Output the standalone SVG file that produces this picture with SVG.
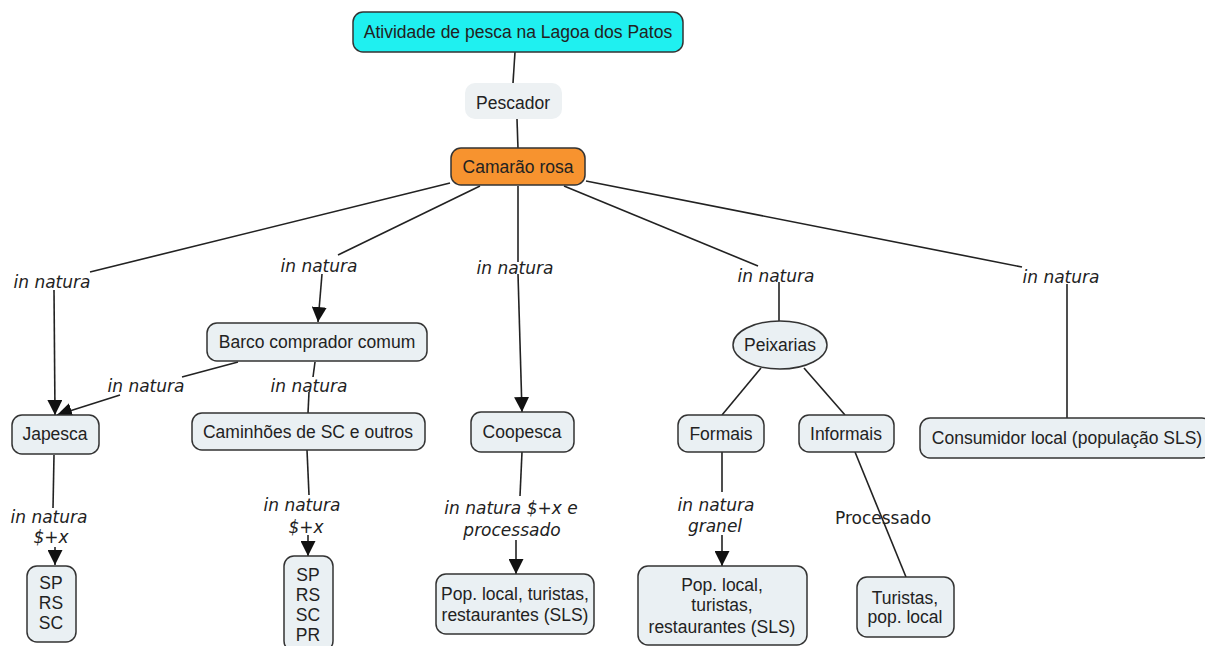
<svg xmlns="http://www.w3.org/2000/svg" width="1205" height="646" viewBox="0 0 1205 646">
  <defs>
    <marker id="arrow" markerUnits="userSpaceOnUse" markerWidth="15" markerHeight="15" refX="15" refY="7.5" orient="auto">
      <path d="M0,0 L15,7.5 L0,15 z" fill="#111"/>
    </marker>
    <style>
      .box { fill: #EAF0F3; stroke: #333; stroke-width: 1.5; }
      .node { font-family: "Liberation Sans", Arial, sans-serif; font-size: 17.5px; fill: #222; text-anchor: middle; }
      .lbl { font-family: "DejaVu Sans", Verdana, sans-serif; font-size: 17px; font-style: italic; fill: #222; text-anchor: middle; }
      .lbl-up { font-family: "DejaVu Sans", Verdana, sans-serif; font-size: 17px; fill: #222; text-anchor: middle; }
      .link { stroke: #222; stroke-width: 1.6; fill: none; }
      .arr { marker-end: url(#arrow); }
    </style>
  </defs>
  <rect width="1205" height="646" fill="#fff"/>

  <!-- connectors -->
  <g id="connectors">
    <line class="link" x1="515" y1="52" x2="513" y2="83"/>
    <line class="link" x1="517" y1="119" x2="518" y2="149"/>
    <!-- Camarão rosa -> Japesca -->
    <line class="link" x1="450" y1="183" x2="90" y2="272"/>
    <line class="link arr" x1="54" y1="290" x2="55" y2="415"/>
    <!-- Camarão rosa -> Barco comprador comum -->
    <line class="link" x1="480" y1="186" x2="338" y2="255"/>
    <line class="link arr" x1="322" y1="274" x2="318" y2="322"/>
    <!-- Camarão rosa -> Coopesca -->
    <line class="link" x1="518" y1="186" x2="518" y2="262"/>
    <line class="link arr" x1="518" y1="274" x2="522" y2="412"/>
    <!-- Camarão rosa -> Peixarias -->
    <line class="link" x1="564" y1="186" x2="758" y2="266"/>
    <line class="link" x1="779" y1="282" x2="779" y2="321"/>
    <!-- Camarão rosa -> Consumidor local -->
    <line class="link" x1="586" y1="181" x2="1022" y2="267"/>
    <line class="link" x1="1067" y1="284" x2="1067" y2="418"/>
    <!-- Barco -> Japesca -->
    <line class="link" x1="238" y1="362" x2="182" y2="377"/>
    <line class="link arr" x1="120" y1="395" x2="57" y2="415"/>
    <!-- Barco -> Caminhões -->
    <line class="link" x1="315" y1="362" x2="313" y2="377"/>
    <line class="link" x1="309" y1="392" x2="308" y2="413"/>
    <!-- Peixarias -> Formais / Informais -->
    <line class="link" x1="761" y1="368" x2="722" y2="415"/>
    <line class="link" x1="804" y1="368" x2="845" y2="415"/>
    <!-- lower arrows -->
    <line class="link" x1="54" y1="455" x2="53" y2="508"/>
    <line class="link arr" x1="55" y1="547" x2="55" y2="565"/>
    <line class="link" x1="307" y1="450" x2="309" y2="495"/>
    <line class="link arr" x1="308" y1="535" x2="308" y2="556"/>
    <line class="link" x1="522" y1="452" x2="520" y2="496"/>
    <line class="link arr" x1="516" y1="540" x2="516" y2="574"/>
    <line class="link" x1="722" y1="452" x2="722" y2="492"/>
    <line class="link arr" x1="722" y1="535" x2="722" y2="566"/>
    <line class="link" x1="855" y1="452" x2="906" y2="577"/>

    <!-- linking phrases -->
    <text class="lbl" x="52" y="288">in natura</text>
    <text class="lbl" x="319" y="272">in natura</text>
    <text class="lbl" x="515" y="274">in natura</text>
    <text class="lbl" x="776" y="282">in natura</text>
    <text class="lbl" x="1061" y="283">in natura</text>
    <text class="lbl" x="146" y="392">in natura</text>
    <text class="lbl" x="309" y="392">in natura</text>
    <text class="lbl" x="49" y="523">in natura</text>
    <text class="lbl" x="51" y="543">$+x</text>
    <text class="lbl" x="302" y="511">in natura</text>
    <text class="lbl" x="306" y="533">$+x</text>
    <text class="lbl" x="511" y="514">in natura $+x e</text>
    <text class="lbl" x="512" y="536">processado</text>
    <text class="lbl" x="716" y="511">in natura</text>
    <text class="lbl" x="715" y="532">granel</text>
    <text class="lbl-up" x="883" y="524">Processado</text>
  </g>

  <g id="n-atividade">
    <rect x="353" y="12" width="330" height="40" rx="10" fill="#1FF0F0" stroke="#333" stroke-width="1.5"/>
    <text class="node" x="518" y="38">Atividade de pesca na Lagoa dos Patos</text>
  </g>
  <g id="n-pescador">
    <rect x="465" y="83" width="97" height="36" rx="10" fill="#EDF1F3"/>
    <text class="node" x="513" y="109">Pescador</text>
  </g>
  <g id="n-camarao">
    <rect x="451" y="148" width="134" height="37" rx="10" fill="#F7932F" stroke="#333" stroke-width="1.5"/>
    <text class="node" x="518" y="173">Camarão rosa</text>
  </g>
  <g id="n-barco">
    <rect class="box" x="207" y="323" width="220" height="38" rx="10"/>
    <text class="node" x="317" y="348">Barco comprador comum</text>
  </g>
  <g id="n-japesca">
    <rect class="box" x="12" y="415" width="87" height="39" rx="10"/>
    <text class="node" x="55" y="440">Japesca</text>
  </g>
  <g id="n-caminhoes">
    <rect class="box" x="192" y="413" width="233" height="37" rx="10"/>
    <text class="node" x="308" y="438">Caminhões de SC e outros</text>
  </g>
  <g id="n-coopesca">
    <rect class="box" x="471" y="412" width="103" height="40" rx="10"/>
    <text class="node" x="522" y="438">Coopesca</text>
  </g>
  <g id="n-peixarias">
    <ellipse class="box" cx="780" cy="345" rx="47" ry="24"/>
    <text class="node" x="780" y="351">Peixarias</text>
  </g>
  <g id="n-formais">
    <rect class="box" x="678" y="415" width="86" height="37" rx="10"/>
    <text class="node" x="721" y="440">Formais</text>
  </g>
  <g id="n-informais">
    <rect class="box" x="799" y="415" width="95" height="37" rx="10"/>
    <text class="node" x="846" y="440">Informais</text>
  </g>
  <g id="n-consumidor">
    <rect class="box" x="920" y="418" width="292" height="40" rx="10"/>
    <text class="node" x="1067" y="444">Consumidor local (população SLS)</text>
  </g>
  <g id="n-japesca-dest">
    <rect class="box" x="27" y="566" width="49" height="76" rx="10"/>
    <text class="node" x="51" y="589">SP</text>
    <text class="node" x="51" y="609">RS</text>
    <text class="node" x="51" y="629">SC</text>
  </g>
  <g id="n-caminhoes-dest">
    <rect class="box" x="284" y="556" width="49" height="95" rx="10"/>
    <text class="node" x="308" y="581">SP</text>
    <text class="node" x="308" y="601">RS</text>
    <text class="node" x="308" y="621">SC</text>
    <text class="node" x="308" y="641">PR</text>
  </g>
  <g id="n-coopesca-dest">
    <rect class="box" x="436" y="574" width="158" height="60" rx="10"/>
    <text class="node" x="515" y="600">Pop. local, turistas,</text>
    <text class="node" x="515" y="621">restaurantes (SLS)</text>
  </g>
  <g id="n-formais-dest">
    <rect class="box" x="638" y="566" width="169" height="79" rx="10"/>
    <text class="node" x="722" y="591">Pop. local,</text>
    <text class="node" x="722" y="611">turistas,</text>
    <text class="node" x="722" y="633">restaurantes (SLS)</text>
  </g>
  <g id="n-informais-dest">
    <rect class="box" x="857" y="577" width="97" height="60" rx="10"/>
    <text class="node" x="905" y="604">Turistas,</text>
    <text class="node" x="905" y="623">pop. local</text>
  </g>
</svg>
